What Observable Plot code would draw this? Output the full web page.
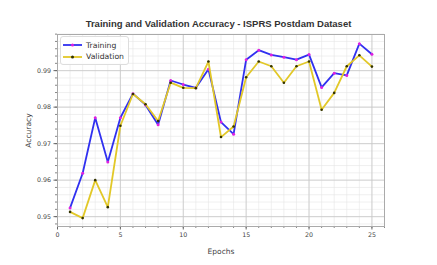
<!DOCTYPE html>
<html><head><meta charset="utf-8">
<script src="https://cdn.jsdelivr.net/npm/d3@7"></script>
<script src="https://cdn.jsdelivr.net/npm/@observablehq/plot@0.6"></script>
<style>
body{margin:0;background:#fff;}
#wrap{position:relative;width:437px;height:265px;overflow:hidden;font-family:"DejaVu Sans",sans-serif;}
#title{position:absolute;left:0;top:18px;width:437px;text-align:center;font:bold 9.5px "Liberation Sans",Arial,sans-serif;color:#333;}
#chart{position:absolute;left:0;top:30px;}
#legend{position:absolute;left:60px;top:36px;width:67px;height:27px;border:1px solid #ddd;border-radius:3px;background:rgba(255,255,255,0.85);font-size:7.7px;color:#333;}
.item{position:absolute;left:2px;height:10px;display:flex;align-items:center;}
.item span{margin-left:4px;}
</style></head>
<body>
<div id="wrap">
  <div id="title">Training and Validation Accuracy - ISPRS Postdam Dataset</div>
  <div id="chart"></div>
  <div id="legend"></div>
</div>
<script>
const epochs = [1,2,3,4,5,6,7,8,9,10,11,12,13,14,15,16,17,18,19,20,21,22,23,24,25];
const trainAcc = [0.9524,0.9619,0.9771,0.9650,0.9771,0.9837,0.9806,0.9752,0.9873,0.9862,0.9853,0.9904,0.9759,0.9726,0.9930,0.9956,0.9943,0.9937,0.9930,0.9944,0.9854,0.9893,0.9887,0.9974,0.9945];
const valAcc = [0.9513,0.9496,0.9600,0.9526,0.9749,0.9836,0.9808,0.9762,0.9867,0.9853,0.9852,0.9925,0.9718,0.9747,0.9882,0.9925,0.9912,0.9867,0.9912,0.9925,0.9793,0.9839,0.9912,0.9942,0.9911];
const seriesNames = ["Training","Validation"];
const xTicks = [0,5,10,15,20,25];
const yTicks = [0.95,0.96,0.97,0.98,0.99];

const lineColors = {"Training":"#3030f0","Validation":"#e2c828"};
const markColors = {"Training":"#e020e0","Validation":"#333300"};

const train = epochs.map((e,i)=>({epoch:e, acc:trainAcc[i]}));
const val = epochs.map((e,i)=>({epoch:e, acc:valAcc[i]}));
const xMinor = d3.range(0,27,1);
const yMinor = d3.range(0.948,1.0001,0.002).map(v=>+v.toFixed(3));

const chart = Plot.plot({
  width:437, height:235,
  marginLeft:57, marginRight:53, marginTop:4, marginBottom:39,
  style:{fontFamily:"DejaVu Sans, sans-serif", fontSize:"6.3px", color:"#444", background:"transparent"},
  x:{domain:[0,26]},
  y:{domain:[0.9473,0.9999]},
  marks:[
    Plot.gridX({ticks:xMinor, stroke:"#e6e6e6", strokeOpacity:1, strokeWidth:0.6}),
    Plot.gridY({ticks:yMinor, stroke:"#e6e6e6", strokeOpacity:1, strokeWidth:0.6}),
    Plot.gridX({ticks:xTicks, stroke:"#c8c8c8", strokeOpacity:1, strokeWidth:0.8}),
    Plot.gridY({ticks:yTicks, stroke:"#c8c8c8", strokeOpacity:1, strokeWidth:0.8}),
    Plot.axisX({ticks:xMinor, tickSize:2, text:null, label:null, stroke:"#888"}),
    Plot.axisY({ticks:yMinor, tickSize:2, text:null, label:null, stroke:"#888"}),
    Plot.axisX({ticks:xTicks, tickSize:3.5, tickPadding:3, stroke:"#666", label:null}),
    Plot.axisY({ticks:yTicks, tickSize:3.5, tickPadding:3, stroke:"#666", tickFormat:d3.format(".2f"), label:null}),
    Plot.axisX({ticks:[], label:"Epochs", labelAnchor:"center", labelArrow:"none", labelOffset:27, fontSize:7.5}),
    Plot.axisY({ticks:[], label:"Accuracy", labelAnchor:"center", labelArrow:"none", labelOffset:32, fontSize:7.5}),
    Plot.frame({stroke:"#aaa", strokeWidth:1}),
    Plot.line(train,{x:"epoch", y:"acc", stroke:lineColors["Training"], strokeWidth:1.8}),
    Plot.dot(train,{x:"epoch", y:"acc", r:1.5, fill:markColors["Training"], stroke:null}),
    Plot.line(val,{x:"epoch", y:"acc", stroke:lineColors["Validation"], strokeWidth:1.8}),
    Plot.dot(val,{x:"epoch", y:"acc", r:1.3, fill:markColors["Validation"], stroke:null})
  ]
});
document.getElementById("chart").appendChild(chart);

const leg = document.getElementById("legend");
seriesNames.forEach((name,i)=>{
  const d = document.createElement("div");
  d.className="item";
  d.style.top = (3 + i*11.5) + "px";
  d.innerHTML = `<svg width="19" height="6"><line x1="0" x2="19" y1="3" y2="3" stroke="${lineColors[name]}" stroke-width="1.8"/><circle cx="9.5" cy="3" r="1.5" fill="${markColors[name]}"/></svg><span>${name}</span>`;
  leg.appendChild(d);
});
</script>
</body></html>
